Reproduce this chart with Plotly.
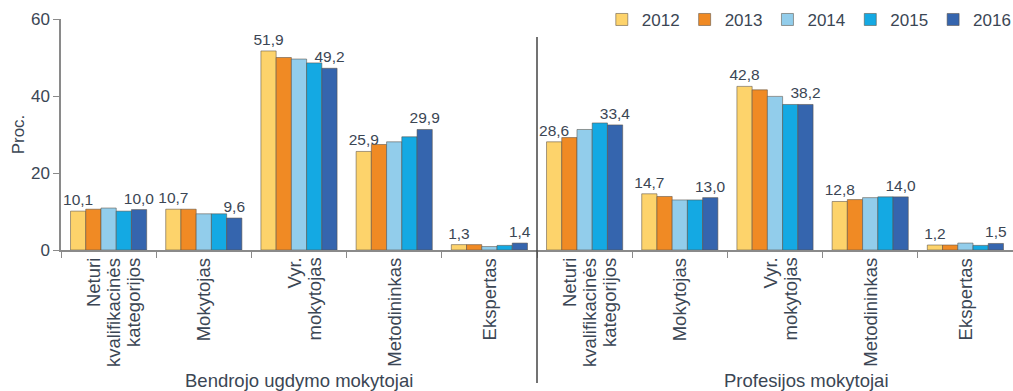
import plotly.graph_objects as go

# --- Data ---
CATEGORIES = [
    "Neturi kvalifikacinės kategorijos (B)", "Mokytojas (B)", "Vyr. mokytojas (B)", "Metodininkas (B)", "Ekspertas (B)",
    "Neturi kvalifikacinės kategorijos (P)", "Mokytojas (P)", "Vyr. mokytojas (P)", "Metodininkas (P)", "Ekspertas (P)",
]
TICK_LINES = [
    ["Neturi", "kvalifikacinės", "kategorijos"], ["Mokytojas"], ["Vyr.", "mokytojas"], ["Metodininkas"], ["Ekspertas"],
    ["Neturi", "kvalifikacinės", "kategorijos"], ["Mokytojas"], ["Vyr.", "mokytojas"], ["Metodininkas"], ["Ekspertas"],
]
YEARS = ["2012", "2013", "2014", "2015", "2016"]

VALUES_2012 = [10.1, 10.6, 51.7, 25.6, 1.4, 28.1, 14.6, 42.5, 12.6, 1.3]
VALUES_2013 = [10.6, 10.6, 50.0, 27.4, 1.4, 29.2, 13.9, 41.6, 13.1, 1.3]
VALUES_2014 = [10.9, 9.4, 49.6, 28.1, 0.9, 31.3, 13.0, 39.9, 13.6, 1.8]
VALUES_2015 = [10.1, 9.4, 48.6, 29.4, 1.2, 33.0, 13.0, 37.8, 13.8, 1.2]
VALUES_2016 = [10.5, 8.3, 47.2, 31.3, 1.8, 32.5, 13.6, 37.8, 13.8, 1.7]

# printed labels (first and last year only)
LABELS_2012 = ["10,1", "10,7", "51,9", "25,9", "1,3", "28,6", "14,7", "42,8", "12,8", "1,2"]
LABELS_2016 = ["10,0", "9,6", "49,2", "29,9", "1,4", "33,4", "13,0", "38,2", "14,0", "1,5"]

GROUPS = ["Bendrojo ugdymo mokytojai", "Profesijos mokytojai"]

COLORS = ["#FDD36B", "#F08A24", "#92CDEB", "#14A9E3", "#3565AE"]
TEXT_COLOR = "#3b4654"
AXIS_COLOR = "#8a8a8a"

series = [VALUES_2012, VALUES_2013, VALUES_2014, VALUES_2015, VALUES_2016]
labels = [LABELS_2012, None, None, None, LABELS_2016]

fig = go.Figure()
for year, vals, color, lab in zip(YEARS, series, COLORS, labels):
    fig.add_trace(go.Bar(
        name=year, x=CATEGORIES, y=vals,
        marker=dict(color=color, line=dict(color="rgba(90,80,70,0.55)", width=1)),
        text=lab if lab else None,
        textposition="outside" if lab else "none",
        textfont=dict(size=15.5, color=TEXT_COLOR),
        cliponaxis=False,
    ))

fig.update_layout(
    barmode="group",
    bargap=0.2,
    bargroupgap=0,
    width=1013, height=391,
    margin=dict(l=61, r=0, t=19, b=141, autoexpand=False),
    plot_bgcolor="white", paper_bgcolor="white",
    font=dict(family="Liberation Sans, Arial, sans-serif", color=TEXT_COLOR),
    legend=dict(
        orientation="h", x=1.004, xanchor="right", y=0.996, yanchor="middle",
        font=dict(size=17, color=TEXT_COLOR), traceorder="normal",
        itemwidth=30, bgcolor="rgba(0,0,0,0)",
    ),
    uniformtext=dict(minsize=15, mode="show"),
)

fig.update_xaxes(
    showline=True, linecolor=AXIS_COLOR, linewidth=1.5,
    ticks="outside", tickson="boundaries", ticklen=6, tickcolor=AXIS_COLOR,
    showticklabels=False, showgrid=False,
)
fig.update_yaxes(
    range=[0, 60], tickvals=[0, 20, 40, 60],
    showline=True, linecolor=AXIS_COLOR, linewidth=1.5,
    ticks="outside", ticklen=6, tickcolor=AXIS_COLOR,
    tickfont=dict(size=17, color=TEXT_COLOR),
    showgrid=False, zeroline=False,
    title=dict(text="Proc.", font=dict(size=17, color=TEXT_COLOR), standoff=2),
)

# category labels, rotated, each line anchored to the axis
LINE_STEP = 20
for cat, lines in zip(CATEGORIES, TICK_LINES):
    n = len(lines)
    for k, line in enumerate(lines):
        shift = (k - (n - 1) / 2) * LINE_STEP + (5 if n > 1 else 0)
        fig.add_annotation(text=line, xref="x", yref="paper", x=cat, y=0,
                           xshift=shift, yshift=-6, textangle=-90,
                           xanchor="center", yanchor="top", showarrow=False,
                           font=dict(size=18.5, color=TEXT_COLOR))

# divider between the two teacher groups
fig.add_shape(type="line", xref="x", yref="paper", x0=4.5, x1=4.5, y0=-0.576, y1=0.922,
              line=dict(color="#444444", width=1.5))

# group captions
fig.add_annotation(text=GROUPS[0], xref="x", yref="paper", x=2, y=-0.567,
                   showarrow=False, font=dict(size=18.5, color=TEXT_COLOR), yanchor="middle")
fig.add_annotation(text=GROUPS[1], xref="x", yref="paper", x=7.33, y=-0.567,
                   showarrow=False, font=dict(size=18.5, color=TEXT_COLOR), yanchor="middle")

# the page's default body margin would push the fixed-size figure off the window
fig.write_html("out.html", config={"displayModeBar": False},
               post_script="document.body.style.margin='0';")
